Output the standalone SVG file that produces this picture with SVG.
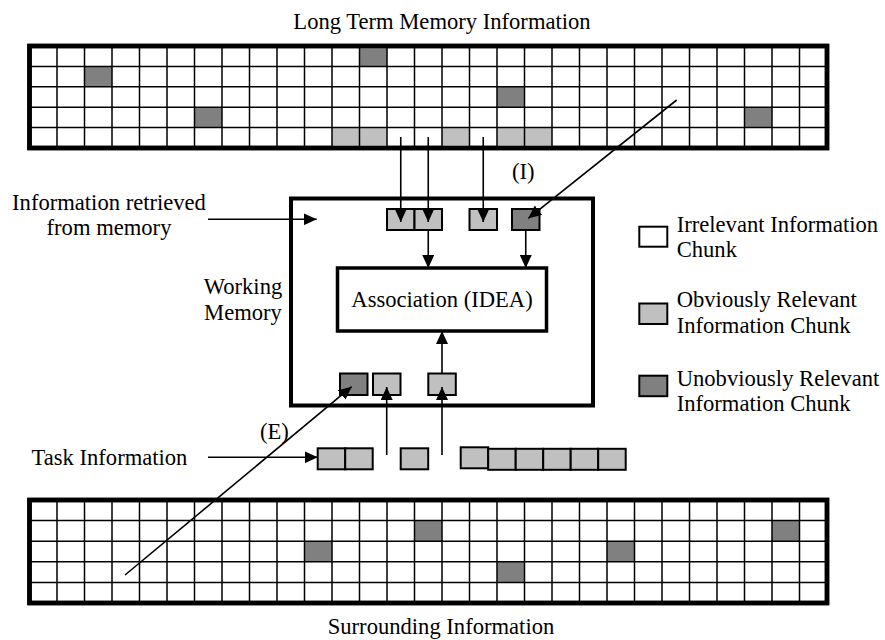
<svg xmlns="http://www.w3.org/2000/svg" width="885" height="640" viewBox="0 0 885 640">
  <defs>
    <marker id="arrow" markerUnits="userSpaceOnUse" markerWidth="13" markerHeight="12" refX="13" refY="6" orient="auto">
      <path d="M0,0 L13,6 L0,12 z" fill="#000"/>
    </marker>
    <style>
      text { font-family: "Liberation Serif", "Times New Roman", serif; font-size: 22.6px; fill: #000; }
      .mid { text-anchor: middle; }
      .frame { fill: #fff; stroke: #000; stroke-width: 4.5; }
      .grid { fill: none; stroke: #000; stroke-width: 1.5; }
      .dark { fill: #808080; }
      .light { fill: #c0c0c0; }
      .chunk { stroke: #000; stroke-width: 2; }
      .white { fill: #fff; }
      .conn { fill: none; stroke: #000; stroke-width: 1.6; marker-end: url(#arrow); }
      .box { fill: #fff; stroke: #000; stroke-width: 4; }
    </style>
  </defs>
  <rect width="885" height="640" fill="#fff"/>

  <!-- Long term memory grid: 29 x 5 cells -->
  <g id="ltm">
    <text class="mid" x="442" y="29">Long Term Memory Information</text>
    <rect class="frame" x="29.5" y="46" width="797.5" height="102"/>
    <g class="dark">
      <rect x="359.5" y="46" width="27.5" height="20.4"/>
      <rect x="84.5" y="66.4" width="27.5" height="20.4"/>
      <rect x="497" y="86.8" width="27.5" height="20.4"/>
      <rect x="194.5" y="107.2" width="27.5" height="20.4"/>
      <rect x="744.5" y="107.2" width="27.5" height="20.4"/>
    </g>
    <g class="light">
      <rect x="332" y="127.6" width="55" height="20.4"/>
      <rect x="442" y="127.6" width="27.5" height="20.4"/>
      <rect x="497" y="127.6" width="55" height="20.4"/>
    </g>
    <path class="grid" d="M29.5,66.4H827M29.5,86.8H827M29.5,107.2H827M29.5,127.6H827
      M57,46V148M84.5,46V148M112,46V148M139.5,46V148M167,46V148M194.5,46V148M222,46V148M249.5,46V148
      M277,46V148M304.5,46V148M332,46V148M359.5,46V148M387,46V148M414.5,46V148M442,46V148M469.5,46V148
      M497,46V148M524.5,46V148M552,46V148M579.5,46V148M607,46V148M634.5,46V148M662,46V148M689.5,46V148
      M717,46V148M744.5,46V148M772,46V148M799.5,46V148"/>
    <rect x="29.5" y="46" width="797.5" height="102" fill="none" stroke="#000" stroke-width="4.5"/>
  </g>

  <!-- Surrounding information grid: 29 x 5 cells -->
  <g id="surrounding">
    <rect class="frame" x="29.5" y="500" width="797.5" height="103"/>
    <g class="dark">
      <rect x="414.5" y="520.6" width="27.5" height="20.6"/>
      <rect x="772" y="520.6" width="27.5" height="20.6"/>
      <rect x="304.5" y="541.2" width="27.5" height="20.6"/>
      <rect x="607" y="541.2" width="27.5" height="20.6"/>
      <rect x="497" y="561.8" width="27.5" height="20.6"/>
    </g>
    <path class="grid" d="M29.5,520.6H827M29.5,541.2H827M29.5,561.8H827M29.5,582.4H827
      M57,500V603M84.5,500V603M112,500V603M139.5,500V603M167,500V603M194.5,500V603M222,500V603M249.5,500V603
      M277,500V603M304.5,500V603M332,500V603M359.5,500V603M387,500V603M414.5,500V603M442,500V603M469.5,500V603
      M497,500V603M524.5,500V603M552,500V603M579.5,500V603M607,500V603M634.5,500V603M662,500V603M689.5,500V603
      M717,500V603M744.5,500V603M772,500V603M799.5,500V603"/>
    <rect x="29.5" y="500" width="797.5" height="103" fill="none" stroke="#000" stroke-width="4.5"/>
    <text class="mid" x="441" y="634">Surrounding Information</text>
  </g>

  <!-- Working memory -->
  <g id="working-memory">
    <rect class="box" x="291" y="198.5" width="302" height="207"/>
    <text class="mid" x="243" y="294">Working</text>
    <text class="mid" x="243" y="319.5">Memory</text>
  </g>

  <g id="association">
    <rect x="337.5" y="268" width="209" height="63" fill="#fff" stroke="#000" stroke-width="3.5"/>
    <text class="mid" x="442" y="307">Association (IDEA)</text>
  </g>

  <!-- Chunks retrieved from memory -->
  <g id="retrieved-chunks">
    <rect class="chunk light" x="387" y="209" width="27.5" height="21"/>
    <rect class="chunk light" x="414.5" y="209" width="27.5" height="21"/>
    <rect class="chunk light" x="469.5" y="209" width="27.5" height="21"/>
    <rect class="chunk dark" x="512" y="209" width="27.5" height="21"/>
  </g>

  <!-- Chunks from the task and surroundings inside working memory -->
  <g id="task-chunks-wm">
    <rect class="chunk dark" x="340" y="373.5" width="27.5" height="21.5"/>
    <rect class="chunk light" x="373" y="373.5" width="27.5" height="21.5"/>
    <rect class="chunk light" x="428.3" y="373.5" width="27.5" height="21.5"/>
  </g>

  <!-- Task information row -->
  <g id="task-information">
    <text x="31.5" y="465">Task Information</text>
    <rect class="chunk light" x="317.7" y="448.3" width="27.5" height="21"/>
    <rect class="chunk light" x="345.2" y="448.3" width="27.5" height="21"/>
    <rect class="chunk light" x="400.7" y="448.3" width="27.5" height="21"/>
    <rect class="chunk light" x="460.7" y="447.3" width="27.5" height="21"/>
    <rect class="chunk light" x="488.2" y="448.8" width="27.5" height="21"/>
    <rect class="chunk light" x="515.7" y="448.8" width="27.5" height="21"/>
    <rect class="chunk light" x="543.2" y="448.8" width="27.5" height="21"/>
    <rect class="chunk light" x="570.7" y="448.8" width="27.5" height="21"/>
    <rect class="chunk light" x="598.2" y="448.8" width="27.5" height="21"/>
  </g>

  <g id="retrieved-label">
    <text class="mid" x="109" y="210">Information retrieved</text>
    <text class="mid" x="109" y="235">from memory</text>
  </g>

  <!-- Legend -->
  <g id="legend">
    <rect class="chunk white" x="639.3" y="226.7" width="28" height="20"/>
    <text x="676.7" y="231.7">Irrelevant Information</text>
    <text x="676.7" y="257.3">Chunk</text>
    <rect class="chunk light" x="639.3" y="303.5" width="28" height="20.5"/>
    <text x="676.7" y="307.3">Obviously Relevant</text>
    <text x="676.7" y="333.3">Information Chunk</text>
    <rect class="chunk dark" x="639.3" y="375.7" width="28" height="20.5"/>
    <text x="676.7" y="385.7">Unobviously Relevant</text>
    <text x="676.7" y="411">Information Chunk</text>
  </g>

  <!-- Connectors -->
  <g id="connectors">
    <line class="conn" x1="400.75" y1="137" x2="400.75" y2="222"/>
    <line class="conn" x1="428.25" y1="137" x2="428.25" y2="222"/>
    <line class="conn" x1="483.25" y1="137" x2="483.25" y2="222"/>
    <line class="conn" x1="676.7" y1="100" x2="528.3" y2="218.3"/>
    <line class="conn" x1="428.25" y1="230" x2="428.25" y2="268"/>
    <line class="conn" x1="525.75" y1="230" x2="525.75" y2="268"/>
    <line class="conn" x1="442" y1="373.5" x2="442" y2="331"/>
    <line class="conn" x1="386.7" y1="455" x2="386.7" y2="387"/>
    <line class="conn" x1="442" y1="455" x2="442" y2="387"/>
    <line class="conn" x1="125" y1="575" x2="351.7" y2="386.7"/>
    <line class="conn" x1="208" y1="219.3" x2="316.7" y2="219.3"/>
    <line class="conn" x1="208" y1="457.3" x2="317.7" y2="457.3"/>
    <text x="512" y="179">(I)</text>
    <text x="260" y="439">(E)</text>
  </g>
</svg>
